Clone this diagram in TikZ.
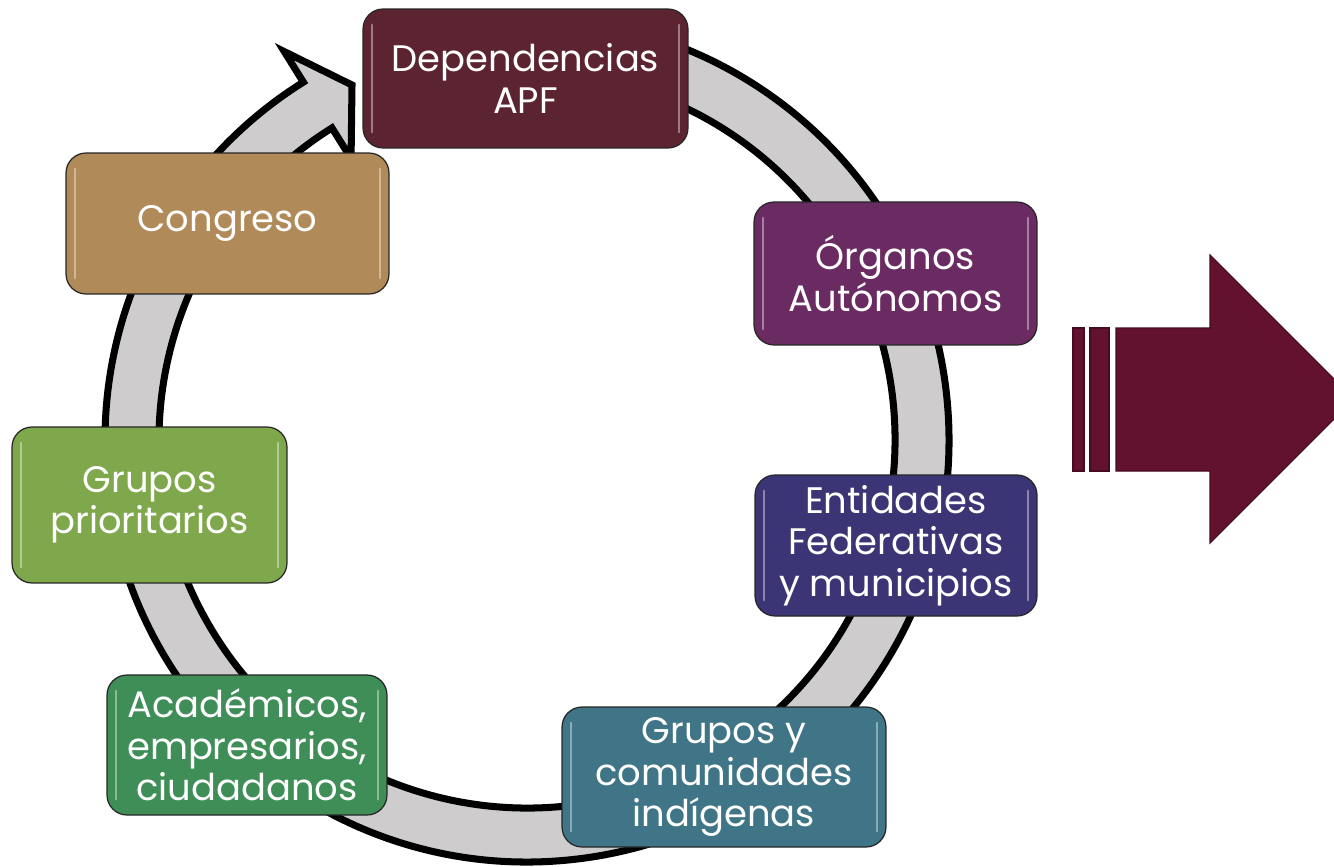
\documentclass[tikz,border=0pt]{standalone}
\usepackage{fontspec}
\setmainfont{Poppins}
\definecolor{cDep}{HTML}{5B2430}
\definecolor{cOrg}{HTML}{6A2A62}
\definecolor{cEnt}{HTML}{3B3576}
\definecolor{cGci}{HTML}{3F7586}
\definecolor{cAca}{HTML}{3F8E58}
\definecolor{cGpr}{HTML}{7FA84C}
\definecolor{cCon}{HTML}{B08A58}
\definecolor{ringgray}{HTML}{CFCCCE}
\definecolor{bigarrow}{HTML}{62112F}
\begin{document}
\begin{tikzpicture}[x=0.02cm,y=-0.02cm,
  box/.style={rectangle, rounded corners=0.4cm, draw=black!85, line width=0.7pt,
    text=white, align=center, inner sep=0pt,
    font=\fontsize{21}{23.5}\selectfont,
    path picture={
      \draw[white, opacity=0.4, line width=1.4pt, line cap=round]
        ([xshift=5pt,yshift=-9pt]path picture bounding box.north west) --
        ([xshift=5pt,yshift=9pt]path picture bounding box.south west);
      \draw[white, opacity=0.4, line width=1.4pt, line cap=round]
        ([xshift=-5pt,yshift=-9pt]path picture bounding box.north east) --
        ([xshift=-5pt,yshift=9pt]path picture bounding box.south east);
    }},
  ring/.style={fill=ringgray, draw=black, line width=4pt, line join=miter},
  bigarr/.style={fill=bigarrow, draw=bigarrow!70!black, line width=0.6pt}
]
\clip (0,0) rectangle (1334,866);
\fill[white] (0,0) rectangle (1334,866);

% circular arrow
\begin{scope}[shift={(527,440)}, yscale=-1]
  \path[ring] (95:422) arc[start angle=95, end angle=-238, radius=422]
    -- (122:458) -- (-175,355) -- (122:332) -- (122:368)
    arc[start angle=-238, end angle=95, radius=368] -- cycle;
\end{scope}

% boxes
\node[box, fill=cDep, minimum width=6.5cm, minimum height=2.78cm] (dep) at (525.5,78.5) {Dependencias\\APF};
\node[box, fill=cOrg, minimum width=5.66cm, minimum height=2.86cm] (org) at (895.5,273.5) {Órganos\\Autónomos};
\node[box, fill=cEnt, minimum width=5.64cm, minimum height=2.82cm] (ent) at (896,545.5) {Entidades\\Federativas\\y municipios};
\node[box, fill=cGci, minimum width=6.48cm, minimum height=2.8cm] (gci) at (724,777) {Grupos y\\comunidades\\indígenas};
\node[box, fill=cAca, minimum width=5.6cm, minimum height=2.8cm] (aca) at (247,745) {Académicos,\\empresarios,\\ciudadanos};
\node[box, fill=cGpr, minimum width=5.5cm, minimum height=3.12cm] (gpr) at (149.5,505) {Grupos\\prioritarios};
\node[box, fill=cCon, minimum width=6.46cm, minimum height=2.82cm] (con) at (227.5,223.5) {Congreso};

% big right arrow
\path[bigarr] (1073,328) rectangle (1084,471);
\path[bigarr] (1090,328) rectangle (1109,471);
\path[bigarr] (1116,328) -- (1210,328) -- (1210,255) -- (1354,399)
  -- (1210,543) -- (1210,471) -- (1116,471) -- cycle;
\end{tikzpicture}
\end{document}
